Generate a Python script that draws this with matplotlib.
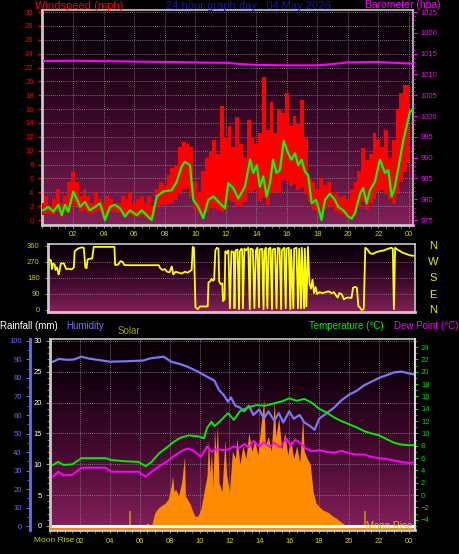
import numpy as np
import matplotlib
matplotlib.use("Agg")
import matplotlib.pyplot as plt
from matplotlib.colors import LinearSegmentedColormap
from matplotlib.ticker import MultipleLocator

plt.rcParams['font.family'] = ['Liberation Sans', 'DejaVu Sans']

# ---------------- data ----------------
hour_ticks = [2, 4, 6, 8, 10, 12, 14, 16, 18, 20, 22, 24]
hour_labels = ['02', '04', '06', '08', '10', '12', '14', '16', '18', '20', '22', '00']

avg_wind = [(0.05, 1.4), (0.38, 1.9), (0.71, 1.2), (1.04, 2.2), (1.26, 0.7), (1.47, 2.2), (1.69, 1.2),
            (2.02, 4.1), (2.24, 3.1), (2.46, 1.9), (2.78, 2.6), (3.1, 1.4), (3.44, 1.9), (3.77, 2.4),
            (4.09, 0.0), (4.42, 1.9), (4.75, 2.2), (5.08, 1.7), (5.4, 0.5), (5.73, 1.4), (6.17, 0.7),
            (6.5, 1.4), (6.82, 0.7), (7.15, 0.0), (7.48, 3.4), (7.91, 4.1), (8.46, 4.3), (8.79, 5.5),
            (9.11, 7.7), (9.33, 8.4), (9.66, 7.9), (9.88, 2.9), (10.2, 1.9), (10.53, 0.25), (10.86, 2.9),
            (11.19, 3.4), (11.62, 2.4), (11.95, 1.7), (12.17, 5.3), (12.5, 4.6), (12.82, 3.1), (13.26, 4.8),
            (13.6, 8.7), (13.8, 6.8), (14.03, 7.9), (14.24, 4.8), (14.46, 6.3), (14.68, 3.4), (14.9, 5.3),
            (15.1, 8.7), (15.33, 6.8), (15.55, 7.2), (15.8, 11.4), (16.1, 9.6), (16.3, 8.7), (16.54, 9.6),
            (16.75, 7.9), (16.97, 8.7), (17.19, 7.0), (17.4, 6.5), (17.63, 2.4), (17.91, 2.9), (18.06, 1.9),
            (18.28, 0.0), (18.5, 2.9), (18.83, 3.8), (19.15, 2.9), (19.37, 1.9), (19.7, 1.4), (20.03, 0.5),
            (20.25, 0.2), (20.47, 1.0), (20.8, 3.8), (21.0, 4.6), (21.23, 2.4), (21.45, 4.3), (21.77, 5.5),
            (22.1, 8.7), (22.43, 6.8), (22.65, 7.2), (22.87, 3.4), (23.08, 4.8), (23.41, 8.7), (23.63, 11.5),
            (23.85, 13.5), (24.07, 15.6), (24.25, 16.0)]

gust_t = np.arange(0, 24.01, 0.25)
gust_mph = [2.5, 3.5, 2.0, 3.0, 4.5, 2.5, 3.5, 5.5, 6.9, 5.5, 3.5, 4.5, 3.5, 2.5, 4.0, 3.0,
            2.5, 3.5, 3.0, 2.0, 2.5, 3.5, 3.0, 4.0, 2.5, 3.0, 3.5, 2.5, 3.5, 2.0, 4.5, 5.5,
            5.0, 6.5, 7.5, 8.0, 10.5, 11.3, 11.0, 10.5, 5.5, 4.0, 7.0, 9.0, 10.0, 11.5, 9.5, 16.5,
            12.0, 13.5, 10.5, 14.8, 11.0, 9.0, 14.5, 12.0, 11.0, 12.5, 20.6, 13.0, 17.0, 12.5, 16.0, 15.5,
            18.3, 13.5, 15.0, 14.0, 17.3, 12.0, 6.0, 5.5, 4.5, 6.0, 5.0, 5.5, 3.5, 4.0, 3.3, 3.5,
            3.0, 4.5, 5.5, 7.0, 10.4, 8.7, 9.5, 12.5, 11.5, 10.5, 13.0, 9.0, 11.5, 16.0, 18.3, 19.5, 19.5]

barometer = [(0.0, 1013.2), (2.0, 1013.3), (4.0, 1013.2), (6.0, 1013.1), (8.0, 1013.0), (10.0, 1012.9),
             (12.0, 1012.8), (13.0, 1012.5), (14.0, 1012.3), (16.0, 1012.2), (18.0, 1012.2), (19.0, 1012.5),
             (20.0, 1012.9), (22.0, 1013.0), (23.0, 1012.8), (24.25, 1012.6)]

wind_dir = [(0.40, 285), (0.55, 280), (0.62, 230), (0.70, 262), (0.80, 255), (0.85, 225), (0.95, 240),
            (1.05, 200), (1.10, 215), (1.20, 262), (1.40, 262), (1.55, 230), (1.70, 232), (1.90, 228),
            (2.05, 240), (2.10, 330), (2.30, 345), (2.55, 352), (2.70, 350), (2.80, 240), (2.88, 235),
            (2.95, 285), (3.10, 288), (3.25, 290), (3.35, 355), (3.60, 355), (4.00, 355), (4.40, 355),
            (4.70, 355), (4.75, 253), (4.95, 256), (5.10, 275), (5.25, 270), (5.35, 253), (5.60, 252),
            (6.00, 252), (6.50, 252), (7.00, 252), (7.60, 252), (7.70, 235), (7.85, 225), (8.00, 230),
            (8.15, 215), (8.30, 212), (8.45, 245), (8.55, 200), (8.70, 215), (8.90, 210), (9.10, 205),
            (9.30, 215), (9.50, 210), (9.65, 220), (9.75, 225), (9.82, 355), (9.90, 350), (10.00, 15),
            (10.15, 5), (10.30, 20), (10.50, 20), (10.80, 20), (10.85, 155), (10.95, 160), (11.05, 175),
            (11.15, 165), (11.22, 170), (11.30, 335), (11.40, 350), (11.50, 345), (11.55, 160), (11.65, 145),
            (11.75, 150), (11.80, 50), (11.90, 60), (11.95, 330), (12.05, 320), (12.15, 335), (12.25, 10),
            (12.35, 330), (12.50, 325), (12.55, 10), (12.62, 335), (12.75, 340), (12.85, 5), (12.90, 330),
            (13.00, 345), (13.05, 340), (13.10, 10), (13.20, 345), (13.30, 335), (13.45, 350), (13.55, 5),
            (13.60, 345), (13.75, 340), (13.85, 10), (13.95, 335), (14.05, 350), (14.15, 15), (14.20, 340),
            (14.35, 345), (14.45, 5), (14.50, 330), (14.60, 350), (14.70, 10), (14.78, 345), (14.90, 350),
            (15.00, 5), (15.05, 340), (15.20, 345), (15.30, 10), (15.38, 350), (15.50, 345), (15.60, 5),
            (15.65, 335), (15.80, 350), (15.90, 10), (15.95, 345), (16.10, 350), (16.20, 5), (16.25, 340),
            (16.40, 10), (16.45, 345), (16.60, 350), (16.70, 10), (16.78, 345), (16.90, 10), (16.95, 350),
            (17.10, 10), (17.15, 345), (17.25, 20), (17.35, 355), (17.45, 150), (17.55, 120), (17.65, 170),
            (17.75, 95), (17.85, 130), (17.95, 90), (18.10, 100), (18.30, 95), (18.50, 100), (18.70, 105),
            (18.90, 95), (19.05, 100), (19.20, 80), (19.30, 70), (19.40, 95), (19.55, 90), (19.70, 60),
            (19.85, 68), (20.00, 70), (20.20, 68), (20.30, 125), (20.45, 130), (20.55, 125), (20.65, 20),
            (20.75, 15), (20.85, 0), (21.00, 5), (21.10, 350), (21.25, 340), (21.40, 320), (21.60, 315),
            (21.80, 325), (22.00, 330), (22.30, 335), (22.60, 345), (22.80, 350), (22.90, 345), (22.97, 5),
            (23.05, 350), (23.20, 340), (23.40, 330), (23.60, 320), (23.80, 315), (24.00, 308), (24.25, 305)]

humidity = [(0.2, 88.8), (0.6, 90.3), (1.2, 89.8), (1.6, 90.0), (2.1, 91.5), (2.6, 90.5), (3.3, 89.7),
            (4.0, 88.8), (5.0, 89.0), (6.2, 89.4), (6.7, 90.6), (7.6, 91.5), (8.1, 88.8), (8.7, 87.5),
            (9.2, 86.1), (9.9, 83.4), (10.5, 80.7), (11.0, 78.5), (11.3, 73.5), (11.6, 71.0), (11.9, 67.2),
            (12.1, 69.5), (12.4, 65.0), (12.7, 64.0), (13.0, 62.0), (13.3, 65.0), (13.6, 60.0), (14.0, 63.0),
            (14.3, 58.0), (14.6, 62.0), (15.0, 57.0), (15.3, 61.0), (15.6, 56.0), (16.0, 62.0), (16.3, 58.0),
            (16.7, 60.0), (17.0, 56.0), (17.4, 54.0), (17.7, 52.0), (18.0, 58.0), (18.5, 61.0), (19.0, 64.0),
            (19.5, 68.0), (20.0, 71.0), (20.5, 73.0), (21.0, 76.0), (21.5, 78.0), (22.0, 80.0), (22.5, 81.5),
            (23.0, 83.0), (23.5, 83.5), (24.0, 82.5), (24.3, 82.0)]

temperature = [(0.2, 4.9), (0.55, 5.4), (0.9, 4.9), (1.5, 5.0), (2.1, 6.0), (3.0, 6.0), (3.7, 6.0),
               (4.1, 5.7), (5.0, 5.5), (5.9, 5.4), (6.4, 4.7), (6.8, 5.4), (7.3, 6.8), (7.8, 7.7),
               (8.2, 8.5), (8.7, 9.3), (9.3, 9.7), (10.0, 9.5), (10.3, 9.2), (10.5, 10.9), (10.8, 11.9),
               (11.0, 11.2), (11.3, 11.8), (11.9, 13.3), (12.3, 12.2), (12.7, 13.6), (13.2, 14.2),
               (13.8, 14.6), (14.4, 14.5), (15.0, 14.9), (15.5, 15.2), (16.0, 15.7), (16.5, 15.3),
               (17.0, 15.6), (17.5, 15.0), (18.0, 14.0), (18.5, 13.4), (19.0, 12.6), (19.5, 12.0),
               (20.0, 11.5), (20.5, 11.0), (21.0, 10.4), (21.5, 10.0), (22.0, 9.7), (22.5, 9.1),
               (23.0, 8.5), (23.5, 8.2), (24.0, 8.1), (24.3, 8.1)]

dew_point = [(0.2, 3.0), (0.55, 3.8), (0.9, 3.2), (1.5, 3.3), (2.1, 4.45), (3.0, 4.45), (3.7, 4.45),
             (4.1, 3.8), (5.0, 3.8), (5.9, 3.8), (6.4, 3.0), (6.8, 3.8), (7.3, 4.7), (7.8, 5.4),
             (8.2, 6.2), (8.7, 7.0), (9.2, 7.6), (9.6, 7.2), (10.1, 6.2), (10.5, 7.9), (10.8, 7.0),
             (11.1, 7.5), (11.5, 7.3), (11.9, 7.4), (12.3, 7.9), (12.6, 7.6), (13.0, 8.3), (13.3, 7.8),
             (13.6, 8.8), (14.0, 7.9), (14.3, 8.6), (14.7, 7.8), (15.0, 8.5), (15.4, 7.7), (15.8, 9.2),
             (16.1, 8.0), (16.4, 9.0), (16.8, 8.3), (17.1, 7.6), (17.5, 7.1), (18.0, 7.3), (18.5, 7.0),
             (19.0, 6.9), (19.5, 7.2), (20.0, 6.8), (20.5, 6.6), (21.0, 6.6), (21.5, 6.2), (22.0, 6.0),
             (22.5, 5.9), (23.0, 5.6), (23.5, 5.4), (24.0, 5.2), (24.3, 5.3)]

solar = [(5.9, 0), (6.2, 10), (6.5, 32), (6.8, 20), (7.0, 86), (7.2, 110), (7.4, 124), (7.7, 140),
         (7.9, 160), (8.1, 230), (8.2, 286), (8.3, 200), (8.4, 216), (8.6, 180), (8.8, 250), (9.0, 394),
         (9.05, 180), (9.2, 160), (9.4, 130), (9.5, 104), (9.7, 68), (9.9, 70), (10.1, 110), (10.3, 200),
         (10.5, 286), (10.6, 483), (10.7, 300), (10.8, 420), (10.9, 220), (11.0, 537), (11.1, 400),
         (11.2, 560), (11.3, 250), (11.5, 200), (11.7, 483), (11.8, 300), (12.0, 200), (12.2, 420),
         (12.4, 380), (12.5, 490), (12.7, 350), (12.9, 450), (13.1, 380), (13.3, 520), (13.5, 420),
         (13.7, 480), (13.9, 400), (14.1, 560), (14.3, 700), (14.4, 450), (14.6, 500), (14.8, 420),
         (15.0, 690), (15.1, 500), (15.3, 600), (15.5, 430), (15.7, 520), (15.9, 400), (16.1, 480),
         (16.3, 380), (16.5, 450), (16.7, 360), (16.9, 600), (17.0, 420), (17.2, 380), (17.4, 350),
         (17.6, 200), (17.8, 140), (18.0, 120), (18.3, 100), (18.6, 90), (18.9, 70), (19.2, 55),
         (19.5, 35), (19.8, 20), (20.1, 8), (20.3, 0)]

rainfall = [(0.2, 0.0), (24.3, 0.0)]
moon_events = [5.35, 21.05]

# ---------------- styling helpers ----------------
W, H = 460, 554
fig = plt.figure(figsize=(W / 100, H / 100), dpi=100, facecolor='black')

def ax_at(x0, y0, x1, y1):
    return fig.add_axes([x0 / W, (H - y1) / H, (x1 - x0) / W, (y1 - y0) / H])

bg_cmap = LinearSegmentedColormap.from_list(
    'bg', [(0.0, '#84205a'), (0.45, '#40092c'), (0.8, '#140010'), (1.0, '#080004')])

def add_bg(ax):
    x0, x1 = ax.get_xlim()
    y0, y1 = ax.get_ylim()
    grad = np.linspace(0, 1, 256).reshape(-1, 1)
    ax.imshow(grad, extent=[x0, x1, y0, y1], origin='lower', aspect='auto',
              cmap=bg_cmap, zorder=0, interpolation='bilinear')
    ax.set_xlim(x0, x1)
    ax.set_ylim(y0, y1)

GRID = dict(color='#9a8a98', linewidth=0.6, linestyle=(0, (1, 1.5)))

def style_spines(ax):
    for s in ax.spines.values():
        s.set_color('#c8c8c8')
        s.set_linewidth(1.2)
    ax.spines['left'].set_linewidth(2)
    ax.spines['bottom'].set_linewidth(2)

def fy(y):
    return (H - y) / H

# ---------------- panel 1: wind + barometer ----------------
ax1 = ax_at(42.5, 10, 413.5, 225)
ax1.set_facecolor('black')
ax1.set_xlim(0, 24.3)
ax1.set_ylim(-0.72, 30.3)
add_bg(ax1)
for yv in range(2, 31, 2):
    ax1.axhline(yv, zorder=1, **GRID)
for xv in range(2, 25, 2):
    ax1.axvline(xv, zorder=1, **GRID)
style_spines(ax1)

avg_t, avg_v = zip(*avg_wind)
lull = np.interp(gust_t, avg_t, avg_v) * 0.55
ax1.fill_between(gust_t, lull, gust_mph, step='mid', color='#ff0000', lw=0, zorder=3)
ax1.plot(avg_t, avg_v, color='#00ff00', lw=1.6, zorder=4)

ax1.set_yticks(range(0, 31, 2))
ax1.set_yticklabels([str(v) for v in range(0, 31, 2)])
ax1.tick_params(axis='y', colors='#ff0000', labelsize=5.5, length=3, width=1, pad=3.5)
ax1.set_xticks(hour_ticks)
ax1.set_xticklabels(hour_labels)
ax1.xaxis.set_minor_locator(MultipleLocator(0.5))
ax1.tick_params(axis='x', which='both', colors='#909090', labelcolor='#d8d800', labelsize=5.5,
                length=2, pad=2.5)

ax1b = ax1.twinx()
ax1b.set_ylim(975 + (-0.72) * 50 / 30, 975 + 30.3 * 50 / 30)
bt, bv = zip(*barometer)
ax1b.plot(bt, bv, color='#ff00ff', lw=1.5, zorder=5)
ax1b.set_yticks(range(975, 1026, 5))
ax1b.yaxis.set_minor_locator(MultipleLocator(1))
ax1b.tick_params(axis='y', which='both', colors='#ff00ff', labelsize=5.5, length=3, pad=2)
ax1b.tick_params(axis='y', which='minor', length=1.5)
for s in ax1b.spines.values():
    s.set_visible(False)

fig.text(35 / W, fy(6), 'Windspeed (mph)', color='#ff0000', fontsize=8, ha='left', va='center')
fig.text(248.5 / W, fy(6), '24 hour graph day : 04 May 2026', color='#1818a0', fontsize=8,
         ha='center', va='center')
fig.text(441 / W, fy(5.5), 'Barometer (hpa)', color='#ff00ff', fontsize=7.5, ha='right', va='center')

# ---------------- panel 2: wind direction ----------------
ax2 = ax_at(48, 244, 415, 312)
ax2.set_facecolor('black')
ax2.set_xlim(0.36, 24.35)
ax2.set_ylim(-11.25, 371.25)
add_bg(ax2)
for yv in [90, 180, 270]:
    ax2.axhline(yv, zorder=1, **GRID)
for s in ax2.spines.values():
    s.set_color('#c8c8c8')
    s.set_linewidth(1.2)
ax2.spines['left'].set_linewidth(2)
ax2.spines['bottom'].set_color('#e8b8d0')
ax2.spines['bottom'].set_linewidth(2)
dt, dv = zip(*wind_dir)
ax2.plot(dt, dv, color='#ffff00', lw=1.3, zorder=3)
ax2.set_yticks([0, 90, 180, 270, 360])
ax2.tick_params(axis='y', colors='#909090', labelcolor='#c8c800', labelsize=5.5, length=2, pad=4)
ax2.set_xticks([])
for lab, yy in zip(['N', 'W', 'S', 'E', 'N'], [246, 262, 278, 295, 310]):
    fig.text(433 / W, fy(yy), lab, color='#e8e800', fontsize=8, ha='center', va='center')

# ---------------- panel 3: rain / humidity / solar / temperature ----------------
ax3 = ax_at(50, 339, 415, 530)
ax3.set_facecolor('black')
ax3.set_xlim(0, 24.41)
ax3.set_ylim(-0.65, 30.32)
add_bg(ax3)
for yv in range(5, 31, 5):
    ax3.axhline(yv, zorder=1, **GRID)
for xv in range(2, 25, 2):
    ax3.axvline(xv, zorder=1, **GRID)
style_spines(ax3)
ax3.set_yticks(range(0, 31, 5))
ax3.yaxis.set_minor_locator(MultipleLocator(1))
ax3.tick_params(axis='y', which='both', colors='#909090', labelcolor='white', labelsize=5.5,
                length=3, pad=3)
ax3.tick_params(axis='y', which='minor', length=2)
ax3.set_xticks(hour_ticks)
ax3.set_xticklabels(hour_labels)
ax3.xaxis.set_minor_locator(MultipleLocator(0.5))
ax3.tick_params(axis='x', which='both', colors='#909090', labelcolor='#d8d800', labelsize=5.5,
                length=2.5, pad=3)

# solar (hidden scale)
axs = ax3.twinx()
axs.set_ylim(-5.4, 1027)
st, sv = zip(*solar)
axs.fill_between(st, 0, sv, color='#ff8c00', lw=0, zorder=2)
axs.axhline(0, color='#ff8c00', lw=2, zorder=2)
axs.vlines(moon_events, -5, 95, color='#c89010', lw=1.2, zorder=3)
axs.set_yticks([])
for s in axs.spines.values():
    s.set_visible(False)

# rainfall line
axr = ax3.twinx()
axr.set_ylim(ax3.get_ylim())
rt, rv = zip(*rainfall)
axr.plot(rt, rv, color='white', lw=2.2, zorder=3)
axr.set_yticks([])
for s in axr.spines.values():
    s.set_visible(False)

# humidity axis on the outer left
axh = ax3.twinx()
axh.set_ylim(-2.16, 101.08)
axh.yaxis.tick_left()
axh.spines['left'].set_position(('outward', 14.4))
axh.spines['left'].set_color('#6a6aff')
axh.spines['left'].set_linewidth(2)
for k in ['right', 'top', 'bottom']:
    axh.spines[k].set_visible(False)
ht, hv = zip(*humidity)
axh.plot(ht, hv, color='#7878f0', lw=1.6, zorder=4)
axh.set_yticks(range(0, 101, 10))
axh.yaxis.set_minor_locator(MultipleLocator(5))
axh.tick_params(axis='y', which='both', colors='#6a6aff', labelsize=5.5, length=3, pad=3)
axh.tick_params(axis='y', which='minor', length=2)

# temperature / dew point axis on the right
axt = ax3.twinx()
axt.set_ylim(-5.65, 25.32)
tt, tv = zip(*temperature)
wt, wv = zip(*dew_point)
axt.plot(wt, wv, color='#ff00ff', lw=1.4, zorder=4)
axt.plot(tt, tv, color='#00ee00', lw=1.4, zorder=5)
axt.set_yticks(range(-4, 25, 2))
axt.yaxis.set_minor_locator(MultipleLocator(1))
axt.tick_params(axis='y', which='both', colors='#00dd00', labelsize=5.5, length=2.5, pad=1.8)
axt.tick_params(axis='y', which='minor', length=1.5)
for k in ['left', 'top', 'bottom']:
    axt.spines[k].set_visible(False)
axt.spines['right'].set_color('#d8d8d8')
axt.spines['right'].set_linewidth(1.5)

fig.text(0 / W, fy(326), 'Rainfall (mm)', color='white', fontsize=7, ha='left', va='center')
fig.text(66 / W, fy(326), 'Humidity', color='#7070ff', fontsize=7, ha='left', va='center')
fig.text(118 / W, fy(331), 'Solar', color='#a0a000', fontsize=7, ha='left', va='center')
fig.text(309 / W, fy(326), 'Temperature (°C)', color='#00ee00', fontsize=7, ha='left', va='center')
fig.text(458 / W, fy(326), 'Dew Point (°C)', color='#ff00ff', fontsize=7, ha='right', va='center')
fig.text(34 / W, fy(541), 'Moon Rise', color='#c0d000', fontsize=6, ha='left', va='center')
fig.text(412 / W, fy(526), 'Moon Rise', color='#c8c020', fontsize=7, ha='right', va='center')

fig.savefig('out.png', dpi=100, facecolor='black')
